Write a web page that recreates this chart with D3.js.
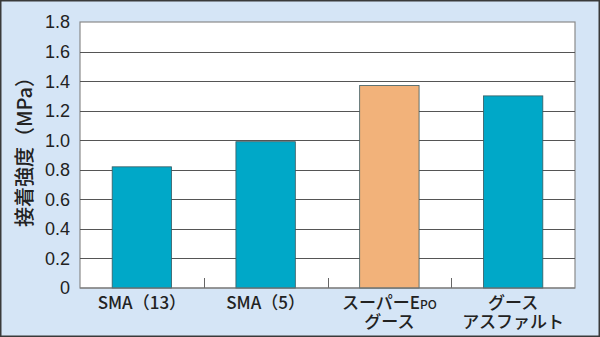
<!DOCTYPE html>
<html>
<head>
<meta charset="utf-8">
<script src="https://cdn.jsdelivr.net/npm/d3@7"></script>
<style>
  body { margin: 0; }
  svg { display: block; font-family: "Noto Sans CJK JP", "Liberation Sans", sans-serif; }
</style>
</head>
<body>
<div id="chart"></div>
<script>
// data
var categories = ["SMA（13）", "SMA（5）", "スーパーEPO グース", "グース アスファルト"];
var values = [0.82, 0.99, 1.37, 1.30];
var barColors = ["#00a8c8", "#00a8c8", "#f2b27a", "#00a8c8"];
var yTicks = [0, 0.2, 0.4, 0.6, 0.8, 1.0, 1.2, 1.4, 1.6, 1.8];
var yTitle = "接着強度（MPa）";

var W = 600, H = 337;
var plotL = 80, plotR = 575, plotT = 22, plotB = 288;

var svg = d3.select("#chart").append("svg")
  .attr("width", W).attr("height", H);

// background + frame
svg.append("rect").attr("x", 0.75).attr("y", 0.75).attr("width", W - 1.5).attr("height", H - 1.5)
  .attr("fill", "#d5e5f6").attr("stroke", "#3a3a3a").attr("stroke-width", 1.5);

var x = d3.scaleBand().domain(categories).range([plotL, plotR]).paddingInner(0).paddingOuter(0);
var y = d3.scaleLinear().domain([0, 1.8]).range([plotB, plotT]);

// plot area
svg.append("rect").attr("x", plotL).attr("y", plotT).attr("width", plotR - plotL).attr("height", plotB - plotT)
  .attr("fill", "#ffffff").attr("stroke", "#8a8a8a").attr("stroke-width", 1.2);

// gridlines
svg.append("g").selectAll("line")
  .data(yTicks.filter(function(d) { return d > 0 && d < 1.8; }))
  .enter().append("line")
    .attr("x1", plotL).attr("x2", plotR)
    .attr("y1", function(d) { return Math.round(y(d)) + 0.5; })
    .attr("y2", function(d) { return Math.round(y(d)) + 0.5; })
    .attr("stroke", "#555").attr("stroke-width", 1);

// y tick labels
svg.append("g").selectAll("text")
  .data(yTicks)
  .enter().append("text")
    .attr("x", 70)
    .attr("y", function(d) { return y(d); })
    .attr("dy", "0.36em")
    .attr("text-anchor", "end")
    .attr("font-family", "Liberation Sans, Arial, sans-serif")
    .attr("font-size", 18)
    .attr("fill", "#222")
    .text(function(d) { return d === 0 ? "0" : d.toFixed(1); });

// bars
svg.append("g").selectAll("rect")
  .data(values)
  .enter().append("rect")
    .attr("x", function(d, i) { return x(categories[i]) + x.bandwidth() * 0.26; })
    .attr("width", x.bandwidth() * 0.48)
    .attr("y", function(d) { return y(d); })
    .attr("height", function(d) { return plotB - y(d); })
    .attr("fill", function(d, i) { return barColors[i]; })
    .attr("stroke", "#3a5a60").attr("stroke-width", 0.8);

// category boundary ticks
svg.append("g").selectAll("line")
  .data(categories.slice(1))
  .enter().append("line")
    .attr("x1", function(d) { return Math.round(x(d)) + 0.5; })
    .attr("x2", function(d) { return Math.round(x(d)) + 0.5; })
    .attr("y1", plotB - 10).attr("y2", plotB)
    .attr("stroke", "#666").attr("stroke-width", 1);

// bottom axis line
svg.append("line").attr("x1", plotL).attr("x2", plotR).attr("y1", plotB).attr("y2", plotB)
  .attr("stroke", "#777").attr("stroke-width", 1.2);

// x labels (two lines, split on space)
var xl = svg.append("g").selectAll("text")
  .data(categories)
  .enter().append("text")
    .attr("text-anchor", "middle")
    .attr("font-size", 17)
    .attr("font-weight", 500)
    .attr("fill", "#222");
xl.each(function(d) {
  var t = d3.select(this);
  var parts = d.split(" ");
  var cx = x(d) + x.bandwidth() / 2;
  parts.forEach(function(p, j) {
    var ts = t.append("tspan").attr("x", cx).attr("y", 303 + j * 19).attr("dy", "0.36em");
    if (p.indexOf("EPO") >= 0) {
      ts.text(p.replace("EPO", "E"));
      t.append("tspan").attr("font-size", 12).text("PO");
    } else {
      ts.text(p);
    }
  });
});

// y title
svg.append("text")
  .attr("transform", "translate(25,147) rotate(-90)")
  .attr("text-anchor", "middle")
  .attr("dy", "0.36em")
  .attr("font-size", 20)
  .attr("font-weight", 500)
  .attr("fill", "#222")
  .text(yTitle);
</script>
</body>
</html>
